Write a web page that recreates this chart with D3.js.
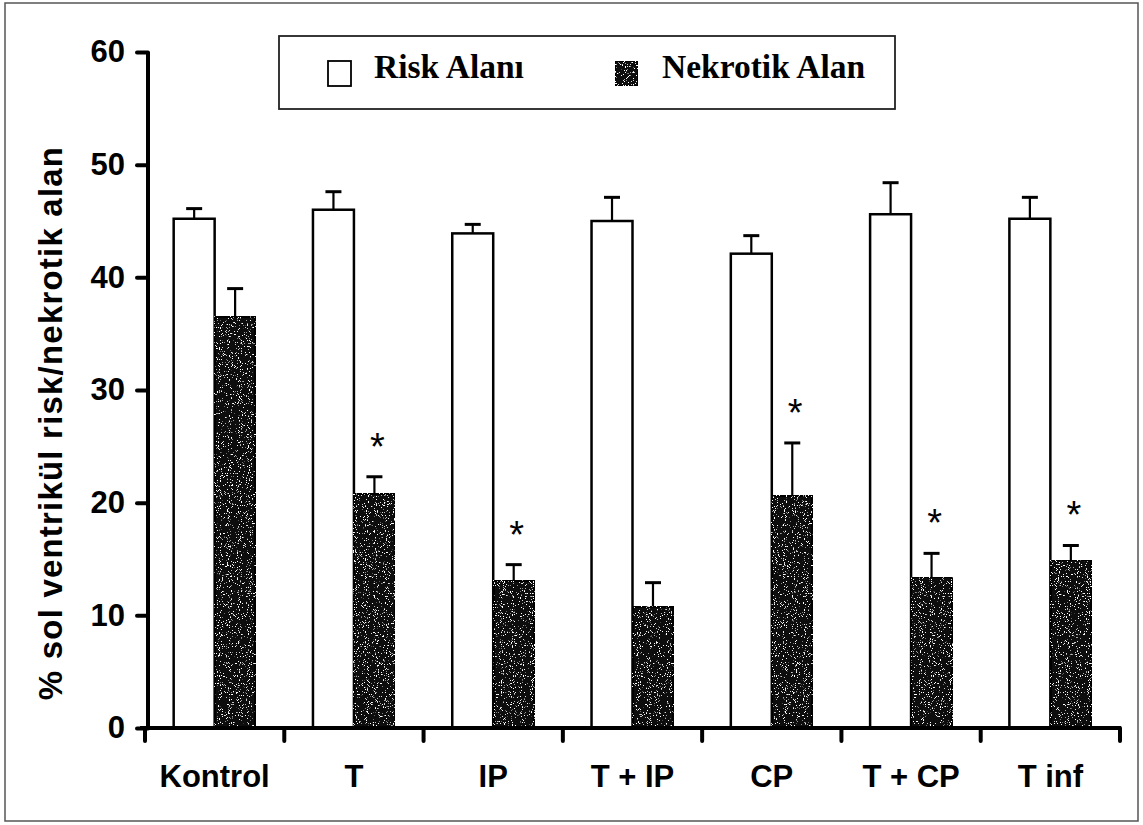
<!DOCTYPE html>
<html>
<head>
<meta charset="utf-8">
<script src="https://cdn.jsdelivr.net/npm/d3@7"></script>
<style>
  html, body { margin: 0; padding: 0; background: #fff; }
  svg { display: block; }
</style>
</head>
<body>
<div id="chart"></div>
<script>
const groups = ["Kontrol", "T", "IP", "T + IP", "CP", "T + CP", "T inf"];
const series = ["Risk Alanı", "Nekrotik Alan"];
const riskMean = [45.2, 46.0, 43.9, 45.0, 42.1, 45.6, 45.2];
const riskErr = [0.9, 1.6, 0.8, 2.1, 1.6, 2.8, 1.9];
const necroMean = [36.5, 20.8, 13.1, 10.8, 20.6, 13.4, 14.9];
const necroErr = [2.5, 1.5, 1.4, 2.1, 4.7, 2.1, 1.3];
const necroSig = [false, true, true, false, true, true, true];
const yTicks = [0, 10, 20, 30, 40, 50, 60];
const yTitle = "% sol ventrikül risk/nekrotik alan";

const width = 1143, height = 825;
const sans = "'Liberation Sans', Arial, Helvetica, sans-serif";
const serif = "'Liberation Serif', 'Times New Roman', serif";

const svg = d3.select("#chart").append("svg")
  .attr("width", width)
  .attr("height", height);

// speckled dark fill like the scanned original
const defs = svg.append("defs");
const filt = defs.append("filter")
  .attr("id", "speckle")
  .attr("x", 0).attr("y", 0).attr("width", 1).attr("height", 1)
  .attr("filterUnits", "objectBoundingBox");
filt.append("feTurbulence")
  .attr("type", "fractalNoise")
  .attr("baseFrequency", 0.9)
  .attr("numOctaves", 2)
  .attr("seed", 4)
  .attr("result", "noise");
filt.append("feColorMatrix")
  .attr("in", "noise")
  .attr("type", "matrix")
  .attr("values", "0 0 0 0 1  0 0 0 0 1  0 0 0 0 1  14 0 0 0 -8.9")
  .attr("result", "specks");
filt.append("feComposite")
  .attr("in", "specks")
  .attr("in2", "SourceGraphic")
  .attr("operator", "atop");

// outer frame
svg.append("rect")
  .attr("x", 5).attr("y", 3)
  .attr("width", 1133).attr("height", 818)
  .attr("fill", "none")
  .attr("stroke", "#555")
  .attr("stroke-width", 1.5);

const x0 = d3.scaleBand().domain(groups).range([145, 1120]).padding(0);
const x1 = d3.scaleBand().domain(series).range([0, x0.bandwidth()]).paddingInner(0).paddingOuter(0.7);
const y = d3.scaleLinear().domain([0, 60]).range([728, 52]);

const data = groups.map((g, i) => ({
  g: g,
  bars: [
    { s: series[0], v: riskMean[i], e: riskErr[i], sig: false },
    { s: series[1], v: necroMean[i], e: necroErr[i], sig: necroSig[i] }
  ]
}));

const grp = svg.append("g").selectAll("g")
  .data(data)
  .join("g")
  .attr("transform", d => `translate(${x0(d.g)},0)`);

const bar = grp.selectAll("g.bar")
  .data(d => d.bars)
  .join("g")
  .attr("class", "bar");

bar.append("rect")
  .attr("x", d => x1(d.s))
  .attr("y", d => y(d.v))
  .attr("width", x1.bandwidth())
  .attr("height", d => y(0) - y(d.v))
  .attr("fill", d => d.s === series[0] ? "#fff" : "#0c0c0c")
  .attr("filter", d => d.s === series[0] ? null : "url(#speckle)")
  .attr("stroke", "#000")
  .attr("stroke-width", 2.5);

// error bars (upper only)
bar.append("line")
  .attr("x1", d => x1(d.s) + x1.bandwidth() / 2)
  .attr("x2", d => x1(d.s) + x1.bandwidth() / 2)
  .attr("y1", d => y(d.v))
  .attr("y2", d => y(d.v + d.e))
  .attr("stroke", "#000")
  .attr("stroke-width", 2.2);
bar.append("line")
  .attr("x1", d => x1(d.s) + x1.bandwidth() / 2 - 8)
  .attr("x2", d => x1(d.s) + x1.bandwidth() / 2 + 8)
  .attr("y1", d => y(d.v + d.e))
  .attr("y2", d => y(d.v + d.e))
  .attr("stroke", "#000")
  .attr("stroke-width", 3);

// significance stars
bar.filter(d => d.sig).append("text")
  .attr("x", d => x1(d.s) + x1.bandwidth() / 2 + 3)
  .attr("y", d => y(d.v + d.e) - 38 + 21)
  .attr("text-anchor", "middle")
  .style("font-family", sans)
  .style("font-size", "38px")
  .text("*");

// y axis
const yAxis = d3.axisLeft(y).tickValues(yTicks).tickSize(11).tickPadding(12).tickFormat(d3.format("d"));
const yg = svg.append("g")
  .attr("transform", "translate(148,0)")
  .call(yAxis);
yg.select(".domain").attr("stroke-width", 4).attr("d", `M0,${y(60)}V${y(0)}`);
yg.selectAll(".tick line").attr("stroke-width", 4).attr("stroke-linecap", "round");
yg.selectAll(".tick text")
  .style("font-family", sans)
  .style("font-size", "31px")
  .style("font-weight", "bold")
  .attr("fill", "#000");

// x axis
const xg = svg.append("g").attr("transform", `translate(0,${y(0)})`);
xg.append("line")
  .attr("x1", 140).attr("x2", 1121)
  .attr("y1", 0).attr("y2", 0)
  .attr("stroke", "#000")
  .attr("stroke-width", 4);
const bounds = groups.map(g => x0(g)).concat([x0.range()[1]]);
xg.selectAll("line.tk")
  .data(bounds)
  .join("line")
  .attr("class", "tk")
  .attr("x1", d => d).attr("x2", d => d)
  .attr("y1", 0).attr("y2", 13)
  .attr("stroke", "#000")
  .attr("stroke-width", 4)
  .attr("stroke-linecap", "round");
xg.selectAll("text")
  .data(groups)
  .join("text")
  .attr("x", d => x0(d) + x0.bandwidth() / 2)
  .attr("y", 59)
  .attr("text-anchor", "middle")
  .style("font-family", sans)
  .style("font-size", "31px")
  .style("font-weight", "bold")
  .text(d => d);

// y title
svg.append("text")
  .attr("transform", `translate(62,${423}) rotate(-90)`)
  .attr("text-anchor", "middle")
  .style("font-family", sans)
  .style("font-size", "33px")
  .style("font-weight", "bold")
  .style("letter-spacing", "1.2px")
  .text(yTitle);

// legend
const lg = svg.append("g");
lg.append("rect")
  .attr("x", 279).attr("y", 36)
  .attr("width", 616).attr("height", 73)
  .attr("fill", "#fff")
  .attr("stroke", "#222")
  .attr("stroke-width", 1.8);
const legendX = [328, 615];
const legendTextX = [374, 662];
series.forEach((s, i) => {
  lg.append("rect")
    .attr("x", legendX[i]).attr("y", 61)
    .attr("width", 23).attr("height", 25)
    .attr("fill", i === 0 ? "#fff" : "#0c0c0c")
    .attr("filter", i === 0 ? null : "url(#speckle)")
    .attr("stroke", "#000")
    .attr("stroke-width", 1.8);
  lg.append("text")
    .attr("x", legendTextX[i]).attr("y", 78)
    .style("font-family", serif)
    .style("font-size", "33.5px")
    .style("font-weight", "bold")
    .text(s);
});
</script>
</body>
</html>
